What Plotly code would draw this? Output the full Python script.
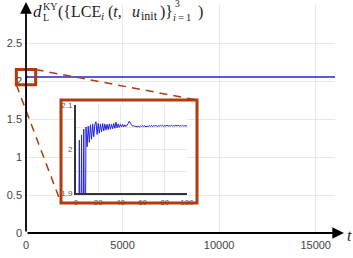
import plotly.graph_objects as go

# ---------------- data ----------------
inset_t = list(range(0, 101))
inset_v = [1.6, 1.6, 1.6, 2.020, 1.6, 2.032, 1.6, 2.045, 1.6, 2.050,
           2.005, 2.052, 2.015, 2.055, 2.022, 2.057, 2.028, 2.056, 2.062, 2.033,
           2.058, 2.036, 2.057, 2.039, 2.058, 2.041, 2.057, 2.043, 2.056, 2.044,
           2.057, 2.045, 2.056, 2.046, 2.058, 2.047, 2.061, 2.048, 2.057, 2.049,
           2.056, 2.050, 2.056, 2.050, 2.055, 2.051, 2.054, 2.058, 2.063, 2.057,
           2.055, 2.052, 2.053, 2.051, 2.052, 2.050, 2.052, 2.050, 2.052, 2.051,
           2.053, 2.051, 2.053, 2.050, 2.052, 2.051, 2.053, 2.051, 2.054, 2.051,
           2.053, 2.052, 2.054, 2.051, 2.053, 2.052, 2.054, 2.052, 2.054, 2.051,
           2.053, 2.052, 2.054, 2.052, 2.053, 2.052, 2.054, 2.052, 2.053, 2.052,
           2.054, 2.052, 2.054, 2.052, 2.053, 2.052, 2.054, 2.052, 2.053, 2.052,
           2.053]
long_t = [200, 500, 1000, 2000, 3000, 4000, 5000, 6000, 7000, 8000, 9000,
          10000, 11000, 12000, 13000, 14000, 15000, 16000]
long_v = [2.052, 2.052, 2.052, 2.052, 2.052, 2.052, 2.052, 2.052, 2.052, 2.052,
          2.052, 2.052, 2.052, 2.052, 2.052, 2.052, 2.052, 2.052]
main_t = inset_t + long_t
main_v = inset_v + long_v

x_ticks = [0, 5000, 10000, 15000]
x_tick_labels = ["0", "5000", "10000", "15000"]
y_ticks = [0, 0.5, 1, 1.5, 2, 2.5]
y_tick_labels = ["0", "0.5", "1", "1.5", "2", "2.5"]
inset_x_ticks = [0, 20, 40, 60, 80, 100]
inset_y_ticks = [1.9, 2.0, 2.1]
inset_y_labels = ["1.9", "2", "2.1"]
zoom_t = [-500, 500]
zoom_v = [1.95, 2.15]

# ---------------- layout constants ----------------
W, H = 353, 258
L, R, T, B = 26, 18, 5, 25
XR = [0, 16000]
YR = [0, 3]
BLUE = "#2323dc"
ORANGE = "#b23a10"
TICKFONT = dict(family="Liberation Sans, Arial, sans-serif", size=11, color="#444")
SMALLTICK = dict(family="Liberation Sans, Arial, sans-serif", size=8, color="#555")
SERIF = "Liberation Serif, DejaVu Serif, serif"

pw, ph = W - L - R, H - T - B


def px(x):
    return (x - L) / pw


def py(y):
    return (H - B - y) / ph


def dx(v):
    return (v - XR[0]) / (XR[1] - XR[0])


def dy(v):
    return (v - YR[0]) / (YR[1] - YR[0])


ins_xd = [px(76), px(187)]
ins_yd = [py(193), py(105)]
fr_x = [px(61), px(197)]
fr_y = [py(203), py(100)]

fig = go.Figure()
fig.add_trace(go.Scatter(x=main_t, y=main_v, mode="lines",
                         line=dict(color=BLUE, width=1.4), showlegend=False,
                         hoverinfo="skip", xaxis="x", yaxis="y"))
fig.add_trace(go.Scatter(x=inset_t, y=inset_v, mode="lines",
                         line=dict(color=BLUE, width=1), showlegend=False,
                         hoverinfo="skip", xaxis="x2", yaxis="y2"))

fig.update_layout(
    width=W, height=H,
    margin=dict(l=L, r=R, t=T, b=B),
    paper_bgcolor="white", plot_bgcolor="white",
    xaxis=dict(range=XR, domain=[0, 1], tickvals=x_ticks, ticktext=x_tick_labels,
               showgrid=True, automargin=False,
               gridcolor="#e8e8e8", gridwidth=1, zeroline=False, showline=False,
               ticks="", tickfont=TICKFONT, ticklabelstandoff=4),
    yaxis=dict(range=YR, domain=[0, 1], tickvals=y_ticks, ticktext=y_tick_labels,
               showgrid=True, automargin=False, gridcolor="#e8e8e8", gridwidth=1,
               zeroline=False, showline=False, ticks="", tickfont=TICKFONT,
               ticklabelstandoff=3),
    xaxis2=dict(range=[0, 100], domain=ins_xd, anchor="y2", tickvals=inset_x_ticks,
                showgrid=True, automargin=False, gridcolor="#e8e8e8", zeroline=False,
                showline=True, linecolor="#333", linewidth=2, ticks="",
                tickfont=SMALLTICK, ticklabelstandoff=0),
    yaxis2=dict(range=[1.9, 2.1], domain=ins_yd, anchor="x2", tickvals=inset_y_ticks,
                ticktext=inset_y_labels, showgrid=True, automargin=False,
                gridcolor="#e8e8e8", zeroline=False, showline=True,
                linecolor="#333", linewidth=2, ticks="",
                minor=dict(dtick=0.05, showgrid=True, gridcolor="#e8e8e8"),
                tickfont=SMALLTICK, ticklabelstandoff=0),
)

zx0, zx1 = dx(zoom_t[0]), dx(zoom_t[1])
zy0, zy1 = dy(zoom_v[0]), dy(zoom_v[1])

shapes = [
    dict(type="rect", xref="paper", yref="paper", x0=fr_x[0], x1=fr_x[1],
         y0=fr_y[0], y1=fr_y[1], line=dict(color=ORANGE, width=3), layer="above"),
    dict(type="rect", xref="paper", yref="paper", x0=zx0, x1=zx1, y0=zy0, y1=zy1,
         line=dict(color=ORANGE, width=3), layer="above"),
    dict(type="line", xref="paper", yref="paper", x0=zx1, y0=zy1, x1=fr_x[1], y1=fr_y[1],
         line=dict(color=ORANGE, width=1.5, dash="8px,6px"), layer="above"),
    dict(type="line", xref="paper", yref="paper", x0=zx0, y0=zy0, x1=fr_x[0], y1=fr_y[0],
         line=dict(color=ORANGE, width=1.5, dash="8px,6px"), layer="above"),
]
fig.update_layout(shapes=shapes)

ann = []
ann.append(dict(xref="paper", yref="paper", x=px(344), y=0, ax=-(344 - L), ay=0,
                showarrow=True, arrowhead=2, arrowsize=1.3, arrowwidth=1.8,
                arrowcolor="black", text=""))
ann.append(dict(xref="paper", yref="paper", x=0, y=py(2), ax=0, ay=(H - B - 2),
                showarrow=True, arrowhead=2, arrowsize=1.3, arrowwidth=1.8,
                arrowcolor="black", text=""))
ann.append(dict(xref="paper", yref="paper", x=px(345), y=py(236), xanchor="left",
                yanchor="middle", showarrow=False, text="<i>t</i>",
                font=dict(family=SERIF, size=16, color="#222")))


def piece(text, x, y, size):
    return dict(xref="paper", yref="paper", x=px(x), y=py(y), xanchor="left",
                yanchor="middle", showarrow=False, text=text, borderpad=0,
                font=dict(family=SERIF, size=size, color="#222"))


ann += [
    piece("<i>d</i>", 32, 12, 17),
    piece("KY", 42, 6, 10),
    piece("L", 42, 18, 10),
    piece("({", 57, 12, 16),
    piece("LCE", 70, 12, 16),
    piece("<i>i</i>", 100, 16, 11),
    piece("(<i>t</i>,", 107, 12, 16),
    piece("<i>u</i>", 131, 12, 16),
    piece("init", 140, 16, 12),
    piece(")}", 159, 12, 16),
    piece("3", 174, 4, 9.5),
    piece("<i>i</i>\u2009=\u20091", 172, 17, 10.5),
    piece(")", 197, 12, 16),
]
fig.update_layout(annotations=ann)

fig.write_html("out.html", config={"displayModeBar": False},
               post_script="document.body.style.margin='0';document.body.style.overflow='hidden';")
